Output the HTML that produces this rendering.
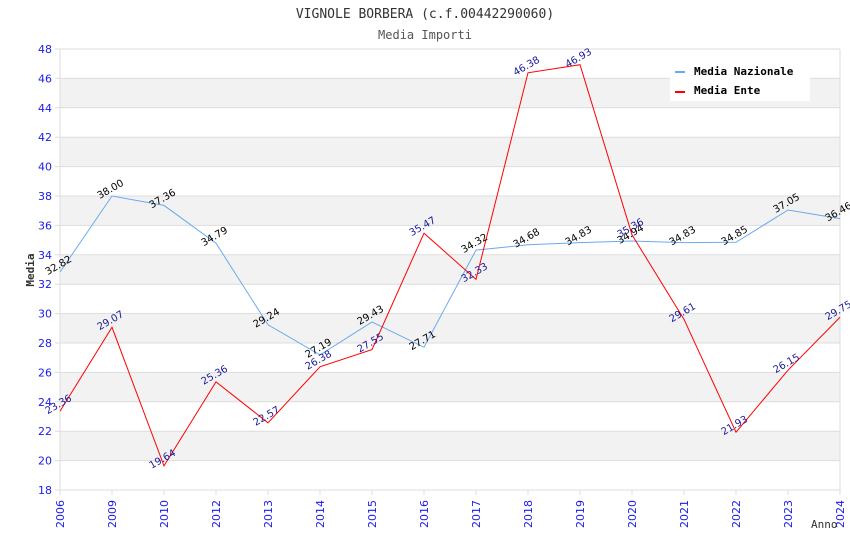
<!DOCTYPE html>
<html><head><meta charset="utf-8"><style>
body{margin:0;background:#fff;}
svg{display:block;}
</style></head><body>
<svg id="chart" width="850" height="550" xmlns="http://www.w3.org/2000/svg">
<text x="425" y="18" text-anchor="middle" font-family="DejaVu Sans Mono, Liberation Mono, monospace" font-size="13" fill="#333">VIGNOLE BORBERA (c.f.00442290060)</text>
<text x="425" y="39" text-anchor="middle" font-family="DejaVu Sans Mono, Liberation Mono, monospace" font-size="12" fill="#555">Media Importi</text>
<g id="grid"></g>
<g id="axes"></g>
<g id="series"></g>
<g id="labels"></g>
<text x="34" y="270" transform="rotate(-90 34 270)" text-anchor="middle" font-family="DejaVu Sans Mono, monospace" font-size="11" font-weight="bold" fill="#333">Media</text>
<text x="811" y="528" font-family="DejaVu Sans Mono, monospace" font-size="11" fill="#333">Anno</text>
<g>
<rect x="670" y="58" width="140" height="43" fill="#fff"/>
<g>
<rect x="675" y="71" width="10" height="2" fill="#6aaaf0"/>
<text x="694" y="75" font-family="DejaVu Sans Mono, monospace" font-size="11" font-weight="bold" fill="#000">Media Nazionale</text></g>
<g>
<rect x="675" y="91" width="10" height="2" fill="#f00"/>
<text x="694" y="94" font-family="DejaVu Sans Mono, monospace" font-size="11" font-weight="bold" fill="#000">Media Ente</text></g>
</g>
</svg>
<script>
const categories=["2006","2009","2010","2012","2013","2014","2015","2016","2017","2018","2019","2020","2021","2022","2023","2024"];
const nazionale=[32.82,38.00,37.36,34.79,29.24,27.19,29.43,27.71,34.32,34.68,34.83,34.94,34.83,34.85,37.05,36.46];
const ente=[23.36,29.07,19.64,25.36,22.57,26.38,27.55,35.47,32.33,46.38,46.93,35.36,29.61,21.93,26.15,29.75];
const yTicks=[18,20,22,24,26,28,30,32,34,36,38,40,42,44,46,48];
const NS="http://www.w3.org/2000/svg";
const L=60,R=840,T=49,B=490,yMin=18,yMax=48;
function x(i){return L+i*(R-L)/(categories.length-1);}
function y(v){return B-(v-yMin)*(B-T)/(yMax-yMin);}
function mk(t,a,p){const e=document.createElementNS(NS,t);for(const k in a)e.setAttribute(k,a[k]);p.appendChild(e);return e;}
const grid=document.getElementById('grid'),axes=document.getElementById('axes'),ser=document.getElementById('series'),lab=document.getElementById('labels');
for(let k=0;k<yTicks.length-1;k++){
 if(k%2===1){const r=mk('rect',{x:L,y:y(yTicks[k+1]),width:R-L,height:y(yTicks[k])-y(yTicks[k+1]),fill:'#f2f2f2'},grid);
 
 }
}
yTicks.forEach(v=>{
 const l=mk('line',{x1:L-5,x2:R,y1:y(v),y2:y(v),stroke:'#ddd','stroke-width':1},grid);
 
 
 const t=mk('text',{x:L-8,y:y(v)+4,'text-anchor':'end','font-family':'DejaVu Sans, sans-serif','font-size':11,fill:'#1a1aee'},axes);
 t.textContent=v;
 
 
});
mk('line',{x1:L,x2:L,y1:T,y2:B+5,stroke:'#ddd'},axes);
mk('line',{x1:R,x2:R,y1:T,y2:B,stroke:'#ddd'},axes);
categories.forEach((c,i)=>{
 mk('line',{x1:x(i),x2:x(i),y1:B,y2:B+5,stroke:'#ddd'},axes);
 const t=mk('text',{x:x(i)+4,y:B+10,'text-anchor':'end','font-family':'DejaVu Sans, sans-serif','font-size':11,fill:'#1a1aee',transform:`rotate(-90 ${x(i)+4} ${B+10})`},axes);
 t.textContent=c;
 
 
});
function series(data,color,lc,name){
 const p=mk('polyline',{points:data.map((v,i)=>x(i)+','+y(v)).join(' '),fill:'none',stroke:color,'stroke-width':1},ser);
 
 
 data.forEach((v,i)=>{
  const t=mk('text',{x:x(i),y:y(v)-4,'text-anchor':'middle','font-family':'DejaVu Sans, sans-serif','font-size':10,fill:lc,transform:`rotate(-30 ${x(i)} ${y(v)-4})`},lab);
  t.textContent=v.toFixed(2);
  
  
 });
}
series(nazionale,'#6aaaf0','#000','nazionale');
series(ente,'#f00','#1a1a99','ente');
</script>
</body></html>
